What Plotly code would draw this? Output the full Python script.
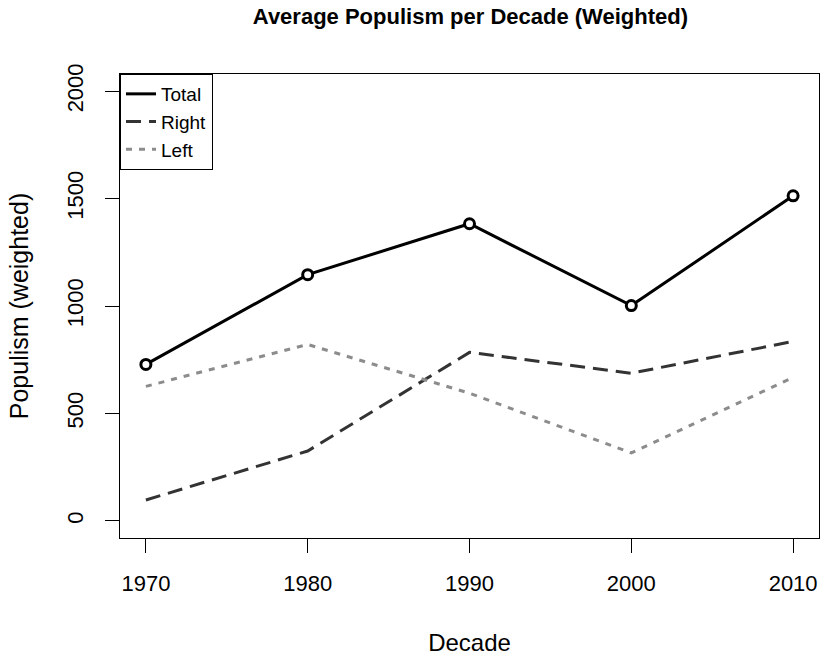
import plotly.graph_objects as go

decades = [1970, 1980, 1990, 2000, 2010]
total = [728, 1146, 1383, 1002, 1513]
right = [97, 325, 784, 687, 835]
left = [626, 821, 594, 316, 668]

FONT = "Liberation Sans, Arial, Helvetica, sans-serif"

fig = go.Figure()
fig.add_trace(go.Scatter(x=decades, y=total, mode="lines", name="Total",
                         line=dict(color="black", width=3)))
fig.add_trace(go.Scatter(x=decades, y=right, mode="lines", name="Right",
                         line=dict(color="#333333", width=3, dash="15px,8px")))
fig.add_trace(go.Scatter(x=decades, y=left, mode="lines", name="Left",
                         line=dict(color="#8c8c8c", width=3, dash="6px,7px")))
fig.add_trace(go.Scatter(x=decades, y=total, mode="markers", showlegend=False,
                         marker=dict(symbol="circle", size=10, color="white",
                                     line=dict(color="black", width=3))))

fig.update_layout(
    width=821, height=656,
    margin=dict(l=120, r=2, t=74, b=118),
    paper_bgcolor="white", plot_bgcolor="white",
    font=dict(family=FONT, color="black"),
    title=dict(text="<b>Average Populism per Decade (Weighted)</b>",
               font=dict(size=22, family=FONT, color="black"),
               x=0.573, xanchor="center", y=0.975, yanchor="middle"),
    legend=dict(x=0, y=1, xanchor="left", yanchor="top",
                bordercolor="black", borderwidth=1,
                font=dict(size=19, family=FONT, color="black"),
                bgcolor="white", tracegroupgap=0, itemwidth=30),
    showlegend=True,
)
fig.update_xaxes(range=[1968.4, 2011.6], tickvals=decades,
                 ticktext=[str(d) for d in decades],
                 showgrid=False, zeroline=False,
                 showline=True, mirror=True, linecolor="black", linewidth=1,
                 ticks="outside", ticklen=14, tickcolor="black", tickwidth=1,
                 ticklabelstandoff=12,
                 tickfont=dict(size=22, family=FONT, color="black"),
                 title=dict(text="Decade", font=dict(size=24, family=FONT, color="black"),
                            standoff=38))
fig.update_yaxes(range=[-80, 2080], tickvals=[0, 500, 1000, 1500, 2000],
                 showgrid=False, zeroline=False,
                 showline=True, mirror=True, linecolor="black", linewidth=1,
                 ticks="outside", ticklen=14, tickcolor="black", tickwidth=1,
                 tickangle=-90, ticklabelstandoff=13,
                 tickfont=dict(size=22, family=FONT, color="black"),
                 title=dict(text="Populism (weighted)", font=dict(size=25, family=FONT, color="black"),
                            standoff=27))

fig.write_html("out.html")
